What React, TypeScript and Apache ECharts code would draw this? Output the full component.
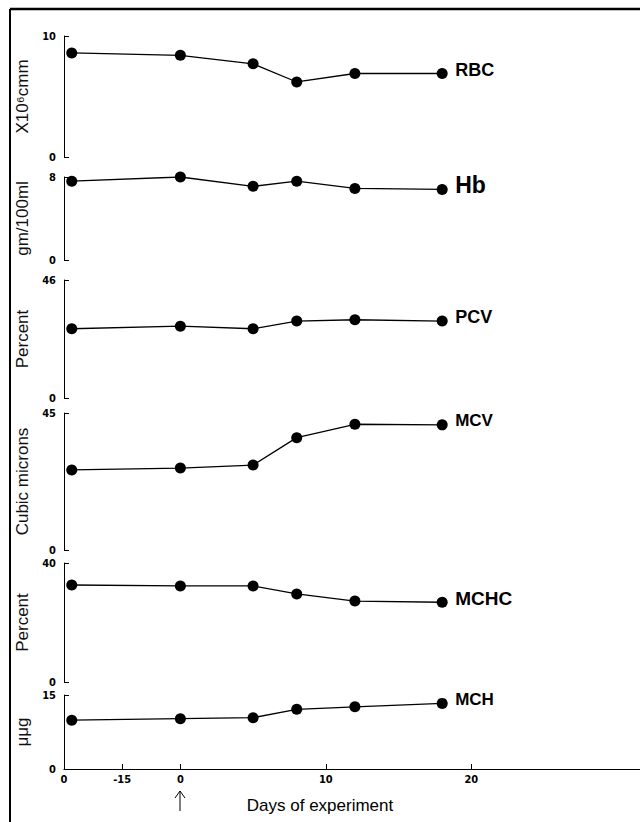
import React, { useEffect, useRef } from "react";
import * as echarts from "echarts";

// Days of experiment at which blood was sampled
const days = [-28, 0, 5, 8, 12, 18];
const rbc = [8.6, 8.4, 7.7, 6.2, 6.9, 6.9];
const hb = [7.6, 8.0, 7.1, 7.6, 6.9, 6.8];
const pcv = [27, 28, 27, 30, 30.5, 30];
const mcv = [26.3, 26.9, 27.9, 36.9, 41.3, 41.1];
const mchc = [32.6, 32.3, 32.3, 29.6, 27.2, 26.8];
const mch = [9.9, 10.2, 10.4, 12.1, 12.6, 13.3];

const seriesNames = ["RBC", "Hb", "PCV", "MCV", "MCHC", "MCH"];
const unitNames = ["X10\u2076cmm", "gm/100ml", "Percent", "Cubic microns", "Percent", "\u03bc\u03bcg"];
const axisMax = [10, 8, 46, 45, 40, 15];
const seriesValues = [rbc, hb, pcv, mcv, mchc, mch];

const xTickDays = [-30, -15, 0, 10, 20];
const xTickLabels = ["0", "-15", "0", "10", "20"];

// pre-treatment period is drawn compressed on the time axis
const toAxis = (d: number) => (d < 0 ? (d * 4) / 15 : d);

// layout (pixels)
const gridTops = [36, 177, 280, 413, 563, 695];
const gridHeights = [121, 83, 118, 137, 119, 74];
const labelSizes = [18, 23, 18, 17, 19, 17];

export default function App() {
  const ref = useRef<HTMLDivElement>(null);
  useEffect(() => {
    if (!ref.current) return;
    const chart = echarts.init(ref.current, null, { renderer: "svg" });
    const tickPos = xTickDays.map(toAxis);
    const tickFont = "'Liberation Sans Narrow', 'DejaVu Sans Condensed', sans-serif";
    const grid = gridTops.map((t, i) => ({
      show: false,
      borderWidth: 0,
      left: 64,
      width: 576,
      top: t,
      height: gridHeights[i],
    }));
    const xAxis = gridTops.map((_, i) => ({
      type: "value",
      gridIndex: i,
      position: "bottom",
      min: toAxis(-30),
      max: 31.6,
      show: i === 5,
      splitLine: { show: false },
      splitArea: { show: false },
      axisLine: { show: i === 5, onZero: false, lineStyle: { color: "#000", width: 1.2 } },
      axisTick: { show: i === 5, inside: true, length: 5, customValues: tickPos, lineStyle: { color: "#000" } },
      axisLabel: {
        show: i === 5,
        customValues: tickPos,
        formatter: (v: number) => {
          const k = tickPos.findIndex((p) => Math.abs(p - v) < 1e-6);
          return k >= 0 ? xTickLabels[k] : "";
        },
        fontSize: 11,
        fontWeight: "bold",
        fontFamily: tickFont,
        color: "#000",
        margin: 5,
      },
    }));
    const yAxis = gridTops.map((_, i) => ({
      type: "value",
      gridIndex: i,
      position: "left",
      min: 0,
      max: axisMax[i],
      interval: axisMax[i],
      splitLine: { show: false },
      splitArea: { show: false },
      axisLine: { show: true, onZero: false, lineStyle: { color: "#000", width: 1 } },
      axisTick: { show: true, inside: true, length: 5, lineStyle: { color: "#000" } },
      axisLabel: { fontSize: 11, fontWeight: "bold", fontFamily: tickFont, color: "#000", margin: 8 },
      name: unitNames[i],
      nameLocation: "middle",
      nameRotate: 90,
      nameGap: 33,
      nameTextStyle: { fontSize: 17, fontFamily: "'Liberation Sans', Arial, sans-serif", color: "#111" },
    }));
    const series = seriesValues.map((vals, i) => ({
      type: "line",
      name: seriesNames[i],
      xAxisIndex: i,
      yAxisIndex: i,
      data: days.map((d, j) => [toAxis(d), vals[j]]),
      symbol: "circle",
      symbolSize: 11,
      itemStyle: { color: "#000" },
      lineStyle: { color: "#000", width: 1.3 },
      endLabel: {
        show: true,
        formatter: seriesNames[i],
        distance: 13,
        offset: [0, -4],
        fontSize: labelSizes[i],
        fontWeight: "bold",
        fontFamily: "'Liberation Sans', Arial, sans-serif",
        color: "#000",
      },
    }));
    chart.setOption({
      animation: false,
      backgroundColor: "#fff",
      grid,
      xAxis,
      yAxis,
      series,
      graphic: [
        { type: "rect", z: 100, shape: { x: 634, y: 11, width: 8, height: 755 }, style: { fill: "#fff" } },
        { type: "line", z: 101, shape: { x1: 10, y1: 9, x2: 640, y2: 9 }, style: { stroke: "#000", lineWidth: 2.5 } },
        { type: "line", z: 101, shape: { x1: 10, y1: 9, x2: 10, y2: 822 }, style: { stroke: "#000", lineWidth: 2 } },
        { type: "line", shape: { x1: 180, y1: 791, x2: 180, y2: 811 }, style: { stroke: "#000", lineWidth: 1 } },
        { type: "polyline", shape: { points: [[175, 798], [180, 791], [185, 798]] }, style: { stroke: "#000", fill: "none", lineWidth: 1 } },
        {
          type: "text",
          x: 320,
          y: 805,
          style: {
            text: "Days of experiment",
            fontSize: 17,
            fontFamily: "'Liberation Sans', Arial, sans-serif",
            fill: "#000",
            align: "center",
            verticalAlign: "middle",
          },
        },
      ],
    });
    return () => chart.dispose();
  }, []);
  return <div ref={ref} style={{ position: "absolute", left: 0, top: 0, width: 640, height: 822 }} />;
}
